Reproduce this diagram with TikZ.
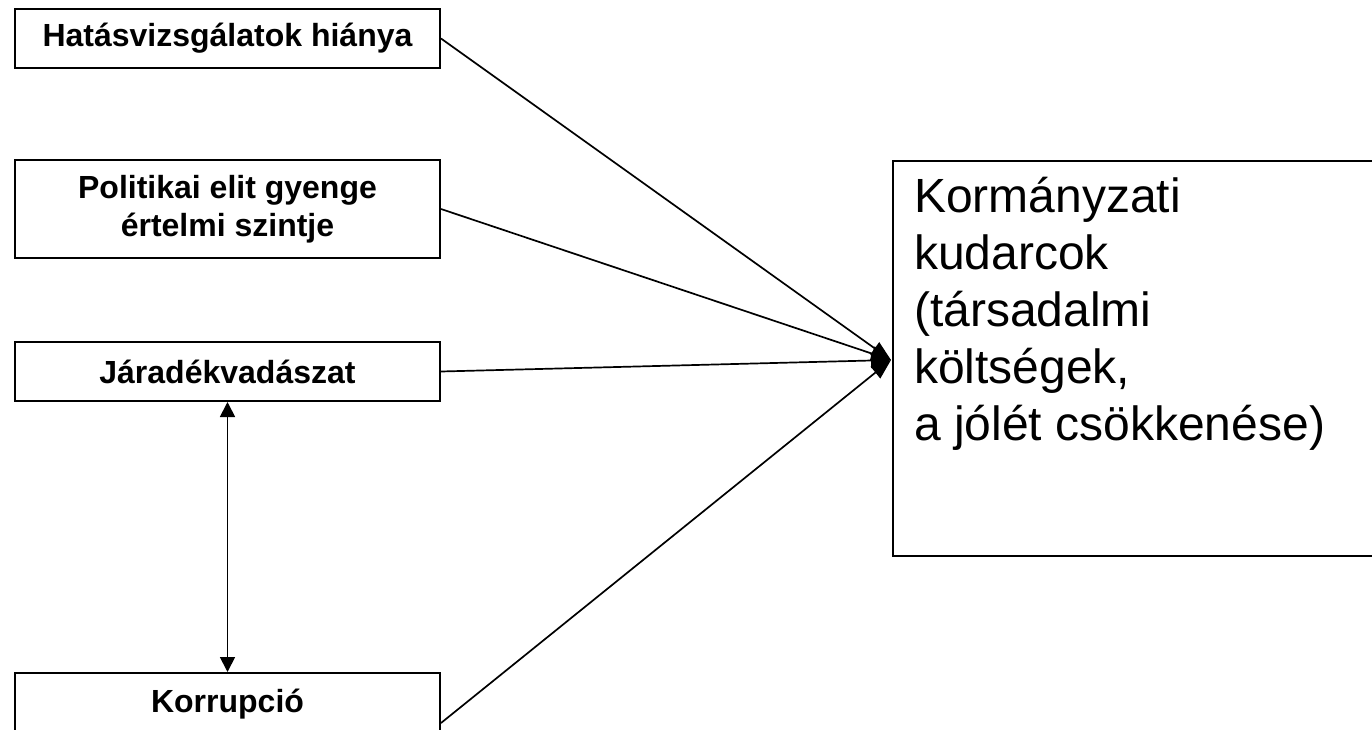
\documentclass[tikz,border=0pt]{standalone}
\usepackage{fontspec}
\setmainfont{Liberation Sans}
\usetikzlibrary{arrows.meta}
\begin{document}
\begin{tikzpicture}[x=1pt,y=-1pt,
  cause/.style={draw,line width=2pt,minimum width=425pt,inner sep=0pt,
    font=\fontsize{32}{38}\selectfont\bfseries,align=center},
  link/.style={line width=1.7pt,-{Triangle[length=20pt,width=15pt]}},
  mutual/.style={line width=1.8pt,{Triangle[length=15pt,width=15pt]}-{Triangle[length=15pt,width=15pt]}}]
\useasboundingbox (0,0) rectangle (1372,730);
\node[cause,minimum height=59pt] (k1) at (227.5,38.5) {Hatásvizsgálatok hiánya};
\node[cause,minimum height=98pt] (k2) at (227.5,209) {Politikai elit gyenge\\értelmi szintje};
\node[cause,minimum height=59pt] (k3) at (227.5,371.5) {Járadékvadászat};
\node[cause,minimum height=100pt] (k4) at (227.5,723) {};
\node[font=\fontsize{32}{38}\selectfont\bfseries] (k4t) at (227.5,704) {Korrupció};
\node[draw,line width=2pt,anchor=north west,minimum width=520pt,minimum height=395pt,inner sep=0pt] (kb) at (892,160) {};
\node[anchor=north west,align=left,inner sep=0pt,font=\fontsize{48}{57}\selectfont] (kt) at (914,177)
  {Kormányzati\\kudarcok\\(társadalmi\\költségek,\\a jólét csökkenése)};
\coordinate (T) at (891,360);
\draw[link] (k1.east) -- (T);
\draw[link] (k2.east) -- (T);
\draw[link] (k3.east) -- (T);
\draw[link] (k4.east) -- (T);
\draw[mutual] (k3.south) -- (k4.north);
\end{tikzpicture}
\end{document}
